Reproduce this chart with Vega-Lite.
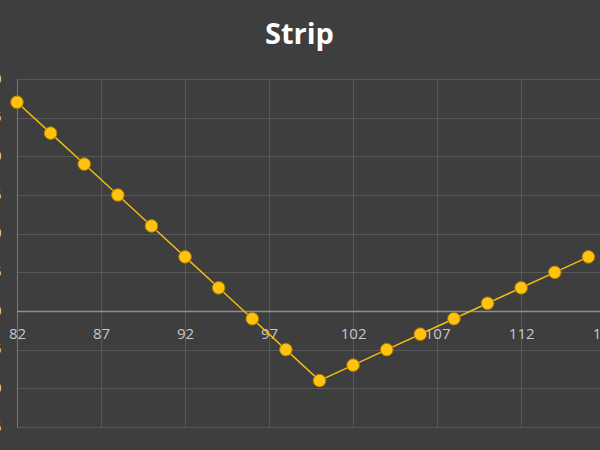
{
  "$schema": "https://vega.github.io/schema/vega-lite/v6.json",
  "autosize": {"type": "none"},
  "padding": {"left": 17, "top": 79, "right": 0, "bottom": 23},
  "width": 605,
  "height": 348,
  "background": "#3e3e3e",
  "config": {"view": {"stroke": null}},
  "title": {
    "text": "Strip",
    "color": "#ffffff",
    "font": "Open Sans",
    "fontSize": 29,
    "fontWeight": "bold",
    "anchor": "middle",
    "dx": -20,
    "offset": 22
  },
  "data": {
    "values": [
      {"x": 82, "y": 27}, {"x": 84, "y": 23}, {"x": 86, "y": 19},
      {"x": 88, "y": 15}, {"x": 90, "y": 11}, {"x": 92, "y": 7},
      {"x": 94, "y": 3}, {"x": 96, "y": -1}, {"x": 98, "y": -5},
      {"x": 100, "y": -9}, {"x": 102, "y": -7}, {"x": 104, "y": -5},
      {"x": 106, "y": -3}, {"x": 108, "y": -1}, {"x": 110, "y": 1},
      {"x": 112, "y": 3}, {"x": 114, "y": 5}, {"x": 116, "y": 7}
    ]
  },
  "encoding": {
    "x": {
      "field": "x",
      "type": "quantitative",
      "scale": {"domain": [82, 118], "nice": false, "zero": false},
      "axis": {
        "title": null,
        "values": [82, 87, 92, 97, 102, 107, 112, 117],
        "offset": -116,
        "tickSize": 0,
        "labelPadding": 15,
        "labelFont": "Open Sans",
        "labelFontSize": 15,
        "labelColor": "#c8c8c8",
        "labelFlush": false,
        "domainColor": "#8e8e8e",
        "domainWidth": 1.5,
        "gridColor": "#ffffff",
        "gridOpacity": 0.13
      }
    },
    "y": {
      "field": "y",
      "type": "quantitative",
      "scale": {"domain": [-15, 30], "nice": false, "zero": false},
      "axis": {
        "title": null,
        "values": [-15, -10, -5, 0, 5, 10, 15, 20, 25, 30],
        "tickSize": 0,
        "labelPadding": 16,
        "labelFont": "Open Sans",
        "labelFontSize": 14,
        "labelColor": "#e0e0e0",
        "domainColor": "#ffffff",
        "domainOpacity": 0.2,
        "gridColor": "#ffffff",
        "gridOpacity": 0.13
      }
    }
  },
  "layer": [
    {"mark": {"type": "line", "color": "#f2bb12", "strokeWidth": 1.5}},
    {
      "mark": {
        "type": "point",
        "filled": true,
        "size": 160,
        "color": "#ffc20e",
        "stroke": "#a77900",
        "strokeWidth": 1,
        "opacity": 1
      }
    }
  ]
}
